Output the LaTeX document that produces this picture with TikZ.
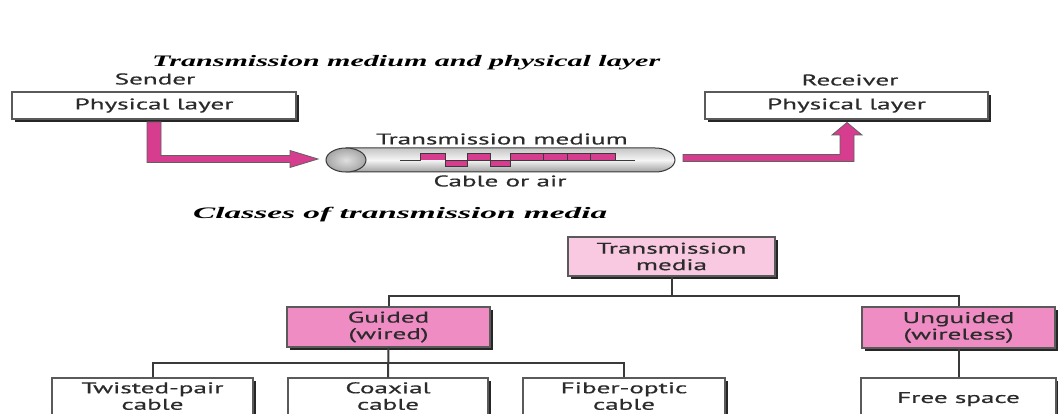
\documentclass[tikz,border=0pt]{standalone}
\usepackage{fontspec}
\setmainfont{Liberation Serif}
\newfontfamily\boxfont{PT Sans}[FakeBold=0.4]
\newfontfamily\ttlfont{Liberation Serif}
\usetikzlibrary{shadows,calc}
\definecolor{txt}{HTML}{2B2B2B}
\definecolor{bord}{HTML}{5A5A5A}
\definecolor{shad}{HTML}{262626}
\definecolor{apink}{HTML}{D63D8E}
\definecolor{lpink}{HTML}{F8C9E1}
\definecolor{mpink}{HTML}{EE8CC3}
\definecolor{dk}{HTML}{3A3A3A}
\newcommand\hs[1]{\scalebox{1.75}[1]{#1}}
\newcommand\dropby[1]{\rule[-#1]{0pt}{#1}}
\tikzset{
  lbl/.style={font=\boxfont\fontsize{15.5}{16.5}\selectfont, text=txt, inner sep=0pt, align=center},
  box/.style={lbl, draw=bord, line width=1.2pt, fill=white,
    general shadow={shadow xshift=3pt, shadow yshift=-3pt, fill=shad}},
  conn/.style={draw=dk, line width=2pt},
  ttl/.style={font=\ttlfont\bfseries\itshape\fontsize{16}{18}\selectfont, inner sep=0pt, anchor=base west},
  fatarrow/.style={fill=apink, draw=dk!80, line width=0.8pt, line join=miter},
  sigfill/.style={fill=apink},
  sigline/.style={draw=dk, line width=1pt}
}
\begin{document}
\begin{tikzpicture}[x=1pt,y=-1pt]
\useasboundingbox (0,0) rectangle (1058,414);
\fill[white] (0,0) rectangle (1058,414);

% titles
\node[ttl] (t1) at (152,67) {\resizebox{508pt}{\height}{Transmission medium and physical layer}};
\node[ttl] (t2) at (193,219) {\resizebox{414pt}{\height}{Classes of transmission media}};

% sender / receiver
\node[box, minimum width=284pt, minimum height=27pt] (snd) at (154,105.5) {\hs{Physical layer}};
\node[lbl] (sndl) at (155,79) {\hs{Sender}};
\node[box, minimum width=283pt, minimum height=27pt] (rcv) at (846.5,105.5) {\hs{Physical layer}};
\node[lbl] (rcvl) at (850,80) {\hs{Receiver}};

% cable
\coordinate (cabL) at (326,160);
\coordinate (cabR) at (675,160);
\shade[top color=gray!45, bottom color=gray!75, middle color=gray!8, draw=dk, line width=1pt]
  (346,148) -- (655,148) arc[start angle=90, end angle=-90, x radius=20pt, y radius=12pt] -- (346,172) -- cycle;
\shade[inner color=gray!25, outer color=gray!70, draw=dk, line width=1pt]
  (346,160) ellipse [x radius=20pt, y radius=12pt];
\node[lbl] (tm) at (502,139) {\hs{Transmission medium}};
\node[lbl] (coa) at (500,181) {\hs{Cable or air}};

% signal
\fill[sigfill] (420,160.5) rectangle (445,153.3);
\fill[sigfill] (445,160.5) rectangle (467,166.7);
\fill[sigfill] (467,160.5) rectangle (490,153.3);
\fill[sigfill] (490,160.5) rectangle (510,166.7);
\fill[sigfill] (510,160.5) rectangle (615,153.3);
\draw[sigline] (400,160.5) -- (420,160.5) -- (420,153.3) -- (445,153.3) -- (445,166.7) -- (467,166.7)
  -- (467,153.3) -- (490,153.3) -- (490,166.7) -- (510,166.7) -- (510,153.3) -- (615,153.3)
  -- (615,160.5) -- (635,160.5);
\draw[sigline] (445,160.5) -- (510,160.5) -- (615,160.5);
\draw[sigline] (543,153.3) -- (543,160.5) (567,153.3) -- (567,160.5) (590,153.3) -- (590,160.5);

% fat arrows
\path[fatarrow] (147,122) -- (147,162.5) -- (290,162.5) -- (290,167.5) -- (318,159) -- (290,150.5)
  -- (290,155.5) -- (161,155.5) -- (161,122) -- cycle;
\path[fatarrow] (683,154.5) -- (840,154.5) -- (840,135) -- (832,135) -- (847,122.5) -- (862,135)
  -- (854,135) -- (854,161.5) -- (683,161.5) -- cycle;

% tree
\coordinate (j1) at (671.5,296);
\coordinate (j2) at (388,363);
\node[box, fill=lpink, minimum width=207pt, minimum height=39pt] (med) at (671.5,256.5) {\hs{Transmission}\\\hs{media}};
\node[box, fill=mpink, minimum width=203pt, minimum height=40pt] (gui) at (388.5,327) {\hs{Guided}\\\hs{(wired)}};
\node[box, fill=mpink, minimum width=193pt, minimum height=41pt] (ung) at (958.5,327.5) {\hs{Unguided}\\\hs{(wireless)}};
\node[box, minimum width=201pt, minimum height=44pt] (tw) at (152.5,400) {\hs{Twisted-pair}\\\hs{cable}\dropby{8pt}};
\node[box, minimum width=200pt, minimum height=44pt] (co) at (388,400) {\hs{Coaxial}\\\hs{cable}\dropby{8pt}};
\node[box, minimum width=202pt, minimum height=44pt] (fi) at (624,400) {\hs{Fiber-optic}\\\hs{cable}\dropby{8pt}};
\node[box, minimum width=195pt, minimum height=44pt] (fs) at (958.5,400) {\hs{Free space}\dropby{5pt}};

\draw[conn] (med.south) -- (med.south |- j1);
\draw[conn] (gui.north) |- (ung.north |- j1) -- (ung.north);
\draw[conn] (gui.south) -- (co.north);
\draw[conn] (tw.north) |- (fi.north |- j2) -- (fi.north);
\draw[conn] (ung.south) -- (fs.north);
\end{tikzpicture}
\end{document}
